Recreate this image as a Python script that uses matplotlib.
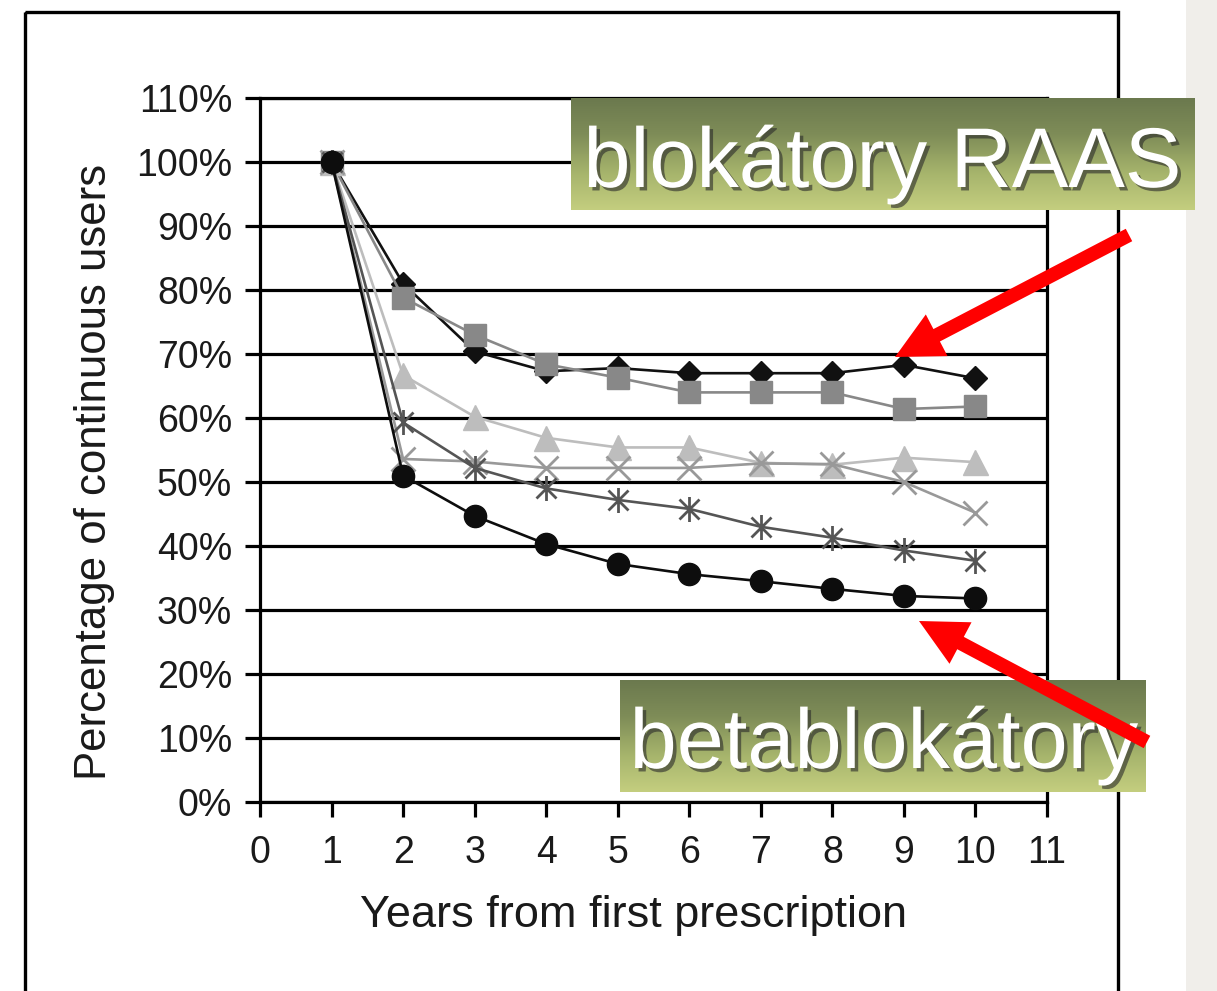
import numpy as np
import matplotlib
matplotlib.use('Agg')
import matplotlib.pyplot as plt
from matplotlib.path import Path
from matplotlib.patches import Rectangle, FancyArrow
from matplotlib.colors import LinearSegmentedColormap
import matplotlib.patheffects as pe

plt.rcParams['font.family'] = ['Liberation Sans', 'DejaVu Sans']

# data (percent of continuous users)
years = [1, 2, 3, 4, 5, 6, 7, 8, 9, 10]
diamond = [100, 81, 70.4, 67.3, 67.8, 67, 67, 67, 68.3, 66.2]
square = [100, 78.8, 73, 68.4, 66.3, 64, 64, 64, 61.4, 61.8]
triangle = [100, 66.7, 60.2, 56.9, 55.4, 55.4, 53.0, 52.7, 53.8, 53.1]
xmark = [100, 53.6, 53.2, 52.2, 52.2, 52.2, 52.9, 52.8, 50, 45.2]
asterisk = [100, 59.3, 52.2, 49, 47.2, 45.8, 43, 41.3, 39.3, 37.7]
circle = [100, 51, 44.7, 40.3, 37.2, 35.6, 34.5, 33.3, 32.2, 31.8]

x_ticks = list(range(0, 12))
y_ticks = list(range(0, 111, 10))
y_ticklabels = [f"{v}%" for v in y_ticks]

W, H = 1217, 991
fig = plt.figure(figsize=(W / 100, H / 100), dpi=100)
fig.patch.set_facecolor('white')

ax = fig.add_axes([260 / W, 189 / H, 787 / W, 704 / H])

# asterisk marker: x plus vertical bar
ast = Path([(-1, -1), (1, 1), (-1, 1), (1, -1), (0, -1.25), (0, 1.25)],
           [Path.MOVETO, Path.LINETO, Path.MOVETO, Path.LINETO, Path.MOVETO, Path.LINETO])

ax.plot(years, diamond, color='#111111', lw=1.9, marker='D', ms=12, mfc='#111111', mec='#111111', zorder=3)
ax.plot(years, square, color='#888888', lw=1.9, marker='s', ms=15.5, mfc='#888888', mec='#888888', zorder=3)
ax.plot(years, triangle, color='#bdbdbd', lw=1.9, marker='^', ms=18, mfc='#bdbdbd', mec='#bdbdbd', zorder=3)
ax.plot(years, xmark, color='#999999', lw=1.9, marker='x', ms=17, mew=2, mec='#999999', zorder=3)
ax.plot(years, asterisk, color='#555555', lw=1.9, marker=ast, ms=18, mew=2, mec='#555555', zorder=3)
ax.plot(years, circle, color='#0d0d0d', lw=1.9, marker='o', ms=16, mfc='#0d0d0d', mec='#0d0d0d', zorder=3)

ax.set_xlim(0, 11)
ax.set_ylim(0, 110)
ax.set_xticks(x_ticks)
ax.set_yticks(y_ticks)
ax.set_yticklabels(y_ticklabels)
ax.yaxis.grid(True, color='black', lw=2.3, zorder=1)
ax.set_axisbelow(True)
for s in ax.spines.values():
    s.set_color('black')
    s.set_linewidth(2.3)
ax.tick_params(axis='both', direction='out', length=11, width=2.3, colors='black',
               labelsize=27, labelcolor='#1a1a1a')
ax.tick_params(axis='y', pad=9)
ax.tick_params(axis='x', pad=13)

ax.set_xlabel('Years from first prescription', fontsize=32.5, color='#1a1a1a')
ax.set_ylabel('Percentage of continuous users', fontsize=31.5, color='#1a1a1a')
ax.xaxis.label.set_va('center')
ax.yaxis.label.set_va('center')
ax.xaxis.set_label_coords((634 - 260) / 787, (802 - 915) / 704)
ax.yaxis.set_label_coords((95 - 260) / 787, (802 - 472) / 704)

# overlay in pixel coordinates: frame, background strip, labels, arrows
ov = fig.add_axes([0, 0, 1, 1], zorder=10)
ov.patch.set_alpha(0)
ov.axis('off')

ov.add_patch(Rectangle((1186, -10), 40, H + 20, facecolor='#f0eeea', edgecolor='none', zorder=1))
ov.add_patch(Rectangle((25, 12), 1118 - 25, H + 20, facecolor='none', edgecolor='black', lw=2.4, zorder=2))

cmap = LinearSegmentedColormap.from_list('olive', ['#6b794e', '#7f8d58', '#a6b46c', '#c4ce7f'])
grad = np.linspace(0, 1, 256).reshape(-1, 1)
boxes = [(571, 1195, 98, 210, 'blokátory RAAS', 882.5, 187),
         (620, 1146, 680, 792, 'betablokátory', 884, 768)]
shadow = [pe.SimplePatchShadow(offset=(2.5, -2.5), shadow_rgbFace='#2a2a2a', alpha=0.6), pe.Normal()]
for x0, x1, y0, y1, label, tx, ty in boxes:
    ov.imshow(grad, extent=(x0, x1, y1, y0), cmap=cmap, aspect='auto', zorder=3, interpolation='bilinear')
    ov.text(tx, ty, label, color='white', fontsize=61, ha='center', va='baseline',
            zorder=4, path_effects=shadow)

for (xt, yt), (xh, yh) in [((1129, 235), (895, 357)), ((1147, 742), (919, 621))]:
    ov.add_patch(FancyArrow(xt, yt, xh - xt, yh - yt, width=14, head_width=47, head_length=47,
                            length_includes_head=True, color='#ff0000', lw=0, zorder=5))

ov.set_xlim(0, W)
ov.set_ylim(H, 0)

fig.savefig('out.png', dpi=100)
